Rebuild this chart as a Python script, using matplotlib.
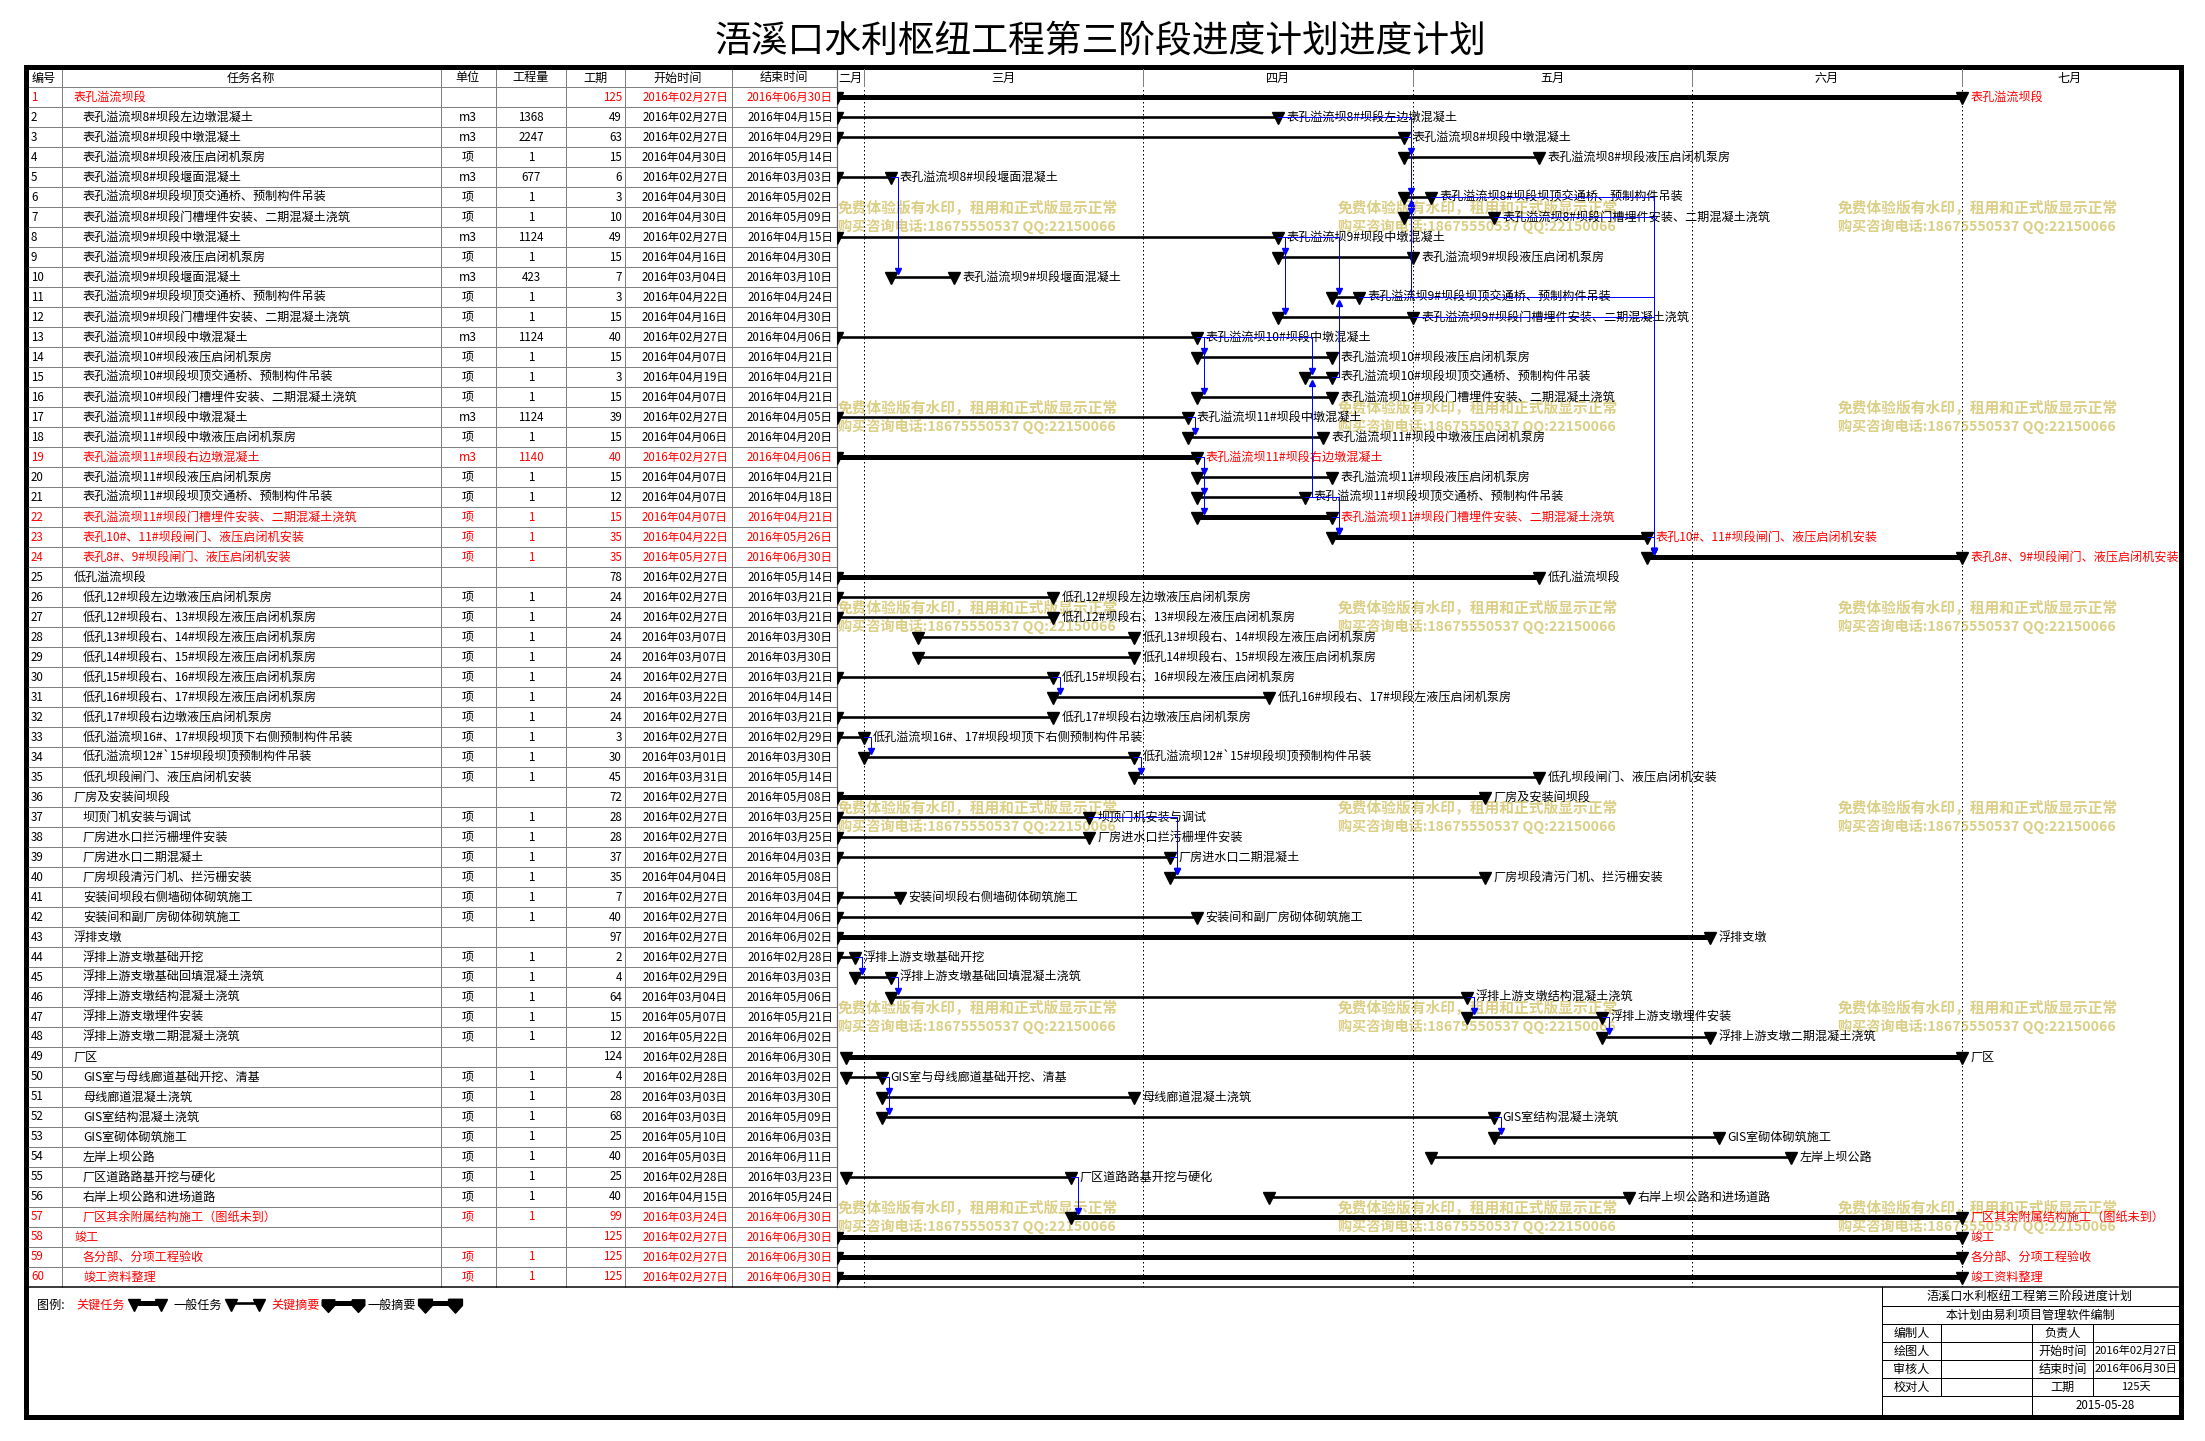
import matplotlib
matplotlib.use('Agg')
import matplotlib.pyplot as plt
import matplotlib.dates as mdates
import numpy as np
from matplotlib.path import Path
from matplotlib.patches import Rectangle

plt.rcParams['font.family'] = ['Noto Sans CJK SC', 'DejaVu Sans']

# ---------------- data ----------------
title = "浯溪口水利枢纽工程第三阶段进度计划进度计划"
header = ["编号", "任务名称", "单位", "工程量", "工期", "开始时间", "结束时间"]
names = [
    "表孔溢流坝段",
    "表孔溢流坝8#坝段左边墩混凝土",
    "表孔溢流坝8#坝段中墩混凝土",
    "表孔溢流坝8#坝段液压启闭机泵房",
    "表孔溢流坝8#坝段堰面混凝土",
    "表孔溢流坝8#坝段坝顶交通桥、预制构件吊装",
    "表孔溢流坝8#坝段门槽埋件安装、二期混凝土浇筑",
    "表孔溢流坝9#坝段中墩混凝土",
    "表孔溢流坝9#坝段液压启闭机泵房",
    "表孔溢流坝9#坝段堰面混凝土",
    "表孔溢流坝9#坝段坝顶交通桥、预制构件吊装",
    "表孔溢流坝9#坝段门槽埋件安装、二期混凝土浇筑",
    "表孔溢流坝10#坝段中墩混凝土",
    "表孔溢流坝10#坝段液压启闭机泵房",
    "表孔溢流坝10#坝段坝顶交通桥、预制构件吊装",
    "表孔溢流坝10#坝段门槽埋件安装、二期混凝土浇筑",
    "表孔溢流坝11#坝段中墩混凝土",
    "表孔溢流坝11#坝段中墩液压启闭机泵房",
    "表孔溢流坝11#坝段右边墩混凝土",
    "表孔溢流坝11#坝段液压启闭机泵房",
    "表孔溢流坝11#坝段坝顶交通桥、预制构件吊装",
    "表孔溢流坝11#坝段门槽埋件安装、二期混凝土浇筑",
    "表孔10#、11#坝段闸门、液压启闭机安装",
    "表孔8#、9#坝段闸门、液压启闭机安装",
    "低孔溢流坝段",
    "低孔12#坝段左边墩液压启闭机泵房",
    "低孔12#坝段右、13#坝段左液压启闭机泵房",
    "低孔13#坝段右、14#坝段左液压启闭机泵房",
    "低孔14#坝段右、15#坝段左液压启闭机泵房",
    "低孔15#坝段右、16#坝段左液压启闭机泵房",
    "低孔16#坝段右、17#坝段左液压启闭机泵房",
    "低孔17#坝段右边墩液压启闭机泵房",
    "低孔溢流坝16#、17#坝段坝顶下右侧预制构件吊装",
    "低孔溢流坝12#`15#坝段坝顶预制构件吊装",
    "低孔坝段闸门、液压启闭机安装",
    "厂房及安装间坝段",
    "坝顶门机安装与调试",
    "厂房进水口拦污栅埋件安装",
    "厂房进水口二期混凝土",
    "厂房坝段清污门机、拦污栅安装",
    "安装间坝段右侧墙砌体砌筑施工",
    "安装间和副厂房砌体砌筑施工",
    "浮排支墩",
    "浮排上游支墩基础开挖",
    "浮排上游支墩基础回填混凝土浇筑",
    "浮排上游支墩结构混凝土浇筑",
    "浮排上游支墩埋件安装",
    "浮排上游支墩二期混凝土浇筑",
    "厂区",
    "GIS室与母线廊道基础开挖、清基",
    "母线廊道混凝土浇筑",
    "GIS室结构混凝土浇筑",
    "GIS室砌体砌筑施工",
    "左岸上坝公路",
    "厂区道路路基开挖与硬化",
    "右岸上坝公路和进场道路",
    "厂区其余附属结构施工（图纸未到）",
    "竣工",
    "各分部、分项工程验收",
    "竣工资料整理",
]
units = ["", "m3", "m3", "项", "m3", "项", "项", "m3", "项", "m3",
         "项", "项", "m3", "项", "项", "项", "m3", "项", "m3", "项",
         "项", "项", "项", "项", "", "项", "项", "项", "项", "项",
         "项", "项", "项", "项", "项", "", "项", "项", "项", "项",
         "项", "项", "", "项", "项", "项", "项", "项", "", "项",
         "项", "项", "项", "项", "项", "项", "项", "", "项", "项"]
quantities = ["", "1368", "2247", "1", "677", "1", "1", "1124", "1", "423",
              "1", "1", "1124", "1", "1", "1", "1124", "1", "1140", "1",
              "1", "1", "1", "1", "", "1", "1", "1", "1", "1",
              "1", "1", "1", "1", "1", "", "1", "1", "1", "1",
              "1", "1", "", "1", "1", "1", "1", "1", "", "1",
              "1", "1", "1", "1", "1", "1", "1", "", "1", "1"]
durations = [125, 49, 63, 15, 6, 3, 10, 49, 15, 7,
             3, 15, 40, 15, 3, 15, 39, 15, 40, 15,
             12, 15, 35, 35, 78, 24, 24, 24, 24, 24,
             24, 24, 3, 30, 45, 72, 28, 28, 37, 35,
             7, 40, 97, 2, 4, 64, 15, 12, 124, 4,
             28, 68, 25, 40, 25, 40, 99, 125, 125, 125]
starts = ["02-27", "02-27", "02-27", "04-30", "02-27", "04-30", "04-30", "02-27", "04-16", "03-04",
          "04-22", "04-16", "02-27", "04-07", "04-19", "04-07", "02-27", "04-06", "02-27", "04-07",
          "04-07", "04-07", "04-22", "05-27", "02-27", "02-27", "02-27", "03-07", "03-07", "02-27",
          "03-22", "02-27", "02-27", "03-01", "03-31", "02-27", "02-27", "02-27", "02-27", "04-04",
          "02-27", "02-27", "02-27", "02-27", "02-29", "03-04", "05-07", "05-22", "02-28", "02-28",
          "03-03", "03-03", "05-10", "05-03", "02-28", "04-15", "03-24", "02-27", "02-27", "02-27"]
ends = ["06-30", "04-15", "04-29", "05-14", "03-03", "05-02", "05-09", "04-15", "04-30", "03-10",
        "04-24", "04-30", "04-06", "04-21", "04-21", "04-21", "04-05", "04-20", "04-06", "04-21",
        "04-18", "04-21", "05-26", "06-30", "05-14", "03-21", "03-21", "03-30", "03-30", "03-21",
        "04-14", "03-21", "02-29", "03-30", "05-14", "05-08", "03-25", "03-25", "04-03", "05-08",
        "03-04", "04-06", "06-02", "02-28", "03-03", "05-06", "05-21", "06-02", "06-30", "03-02",
        "03-30", "05-09", "06-03", "06-11", "03-23", "05-24", "06-30", "06-30", "06-30", "06-30"]
red_rows = [1, 19, 22, 23, 24, 57, 58, 59, 60]
summary_rows = [1, 25, 36, 43, 49, 58]
links = [(5, 10), (2, 4), (3, 6), (3, 7), (11, 6), (8, 9), (8, 12), (8, 11),
         (13, 14), (13, 16), (13, 15), (21, 15), (15, 11), (17, 18),
         (19, 20), (19, 21), (19, 22), (21, 23), (22, 23),
         (6, 24), (7, 24), (11, 24), (12, 24), (23, 24),
         (30, 31), (33, 34), (34, 35), (37, 40), (39, 40),
         (44, 45), (45, 46), (46, 47), (47, 48),
         (50, 51), (50, 52), (52, 53), (55, 57)]
months = ["二月", "三月", "四月", "五月", "六月", "七月"]
month_starts = ["2016-02-01", "2016-03-01", "2016-04-01", "2016-05-01",
                "2016-06-01", "2016-07-01", "2016-08-01"]
watermark1 = "免费体验版有水印，租用和正式版显示正常"
watermark2 = "购买咨询电话:18675550537 QQ:22150066"
legend_items = [("关键任务", "red", "task_thick"), ("一般任务", "black", "task_thin"),
                ("关键摘要", "red", "sum_thick"), ("一般摘要", "black", "sum_wide")]
block_title = "浯溪口水利枢纽工程第三阶段进度计划"
block_sub = "本计划由易利项目管理软件编制"
block_rows = [("编制人", "负责人", ""), ("绘图人", "开始时间", "2016年02月27日"),
              ("审核人", "结束时间", "2016年06月30日"), ("校对人", "工期", "125天")]
block_date = "2015-05-28"

# ---------------- layout ----------------
W, H = 2205, 1441
PX = 0.72  # points per pixel at dpi 100
FS = 8.3    # numbers / dates
FSN = 8.7   # task names
fig = plt.figure(figsize=(W / 100, H / 100), dpi=100)


def rect(l, t, r, b):
    return [l / W, 1 - b / H, (r - l) / W, (b - t) / H]


bg = fig.add_axes([0, 0, 1, 1])
bg.set_xlim(0, W)
bg.set_ylim(H, 0)
bg.axis('off')

n = len(names)
rows = np.arange(1, n + 1)
colors = ['red' if r in red_rows else 'black' for r in rows]

# title
bg.text(1100, 42, title, ha='center', va='center', fontsize=26.5, color='black')

# watermarks (under everything else)
for wx in [838, 1338, 1838]:
    for wy in [208, 408, 608, 808, 1008, 1208]:
        bg.text(wx, wy, watermark1, ha='left', va='center', fontsize=10.6,
                fontweight='bold', color='#dbcf85', zorder=0)
        bg.text(wx, wy + 18, watermark2, ha='left', va='center', fontsize=10.2,
                fontweight='bold', color='#dbcf85', zorder=0)

# outer frame
bg.add_patch(Rectangle((25.5, 66.5), 2181 - 25.5, 1417 - 66.5, fill=False,
                       lw=5 * PX, edgecolor='black', zorder=10))

# table grid
col_x = [62, 441, 496, 566, 625, 732]
for cx in col_x:
    bg.plot([cx, cx], [69, 1287], color='#808080', lw=1 * PX, zorder=2)
bg.plot([837, 837], [69, 1287], color='#606060', lw=1.2 * PX, zorder=2)
bg.plot([28, 837], [87, 87], color='#808080', lw=1 * PX, zorder=2)
bg.plot([28, 2178], [1287, 1287], color='black', lw=1.5 * PX, zorder=2)

# table header
hdr_x = [32, 251, 468, 531, 595, 678, 784]
hdr_ha = ['left', 'center', 'center', 'center', 'center', 'center', 'center']
for t, x, ha in zip(header, hdr_x, hdr_ha):
    bg.text(x, 78, t, ha=ha, va='center', fontsize=FSN)

# table body
tx = fig.add_axes(rect(28, 87, 837, 1287))
tx.set_xlim(28, 837)
tx.set_ylim(n + 0.5, 0.5)
tx.axis('off')
tx.hlines(np.arange(1.5, n + 0.5), 28, 837, color='#808080', lw=1 * PX)


def fmt(md):
    m, d = md.split('-')
    return "2016年%s月%s日" % (m, d)


for r, nm, u, q, du, s, e, c in zip(rows, names, units, quantities, durations, starts, ends, colors):
    tx.text(31, r, str(r), ha='left', va='center', fontsize=FS, color=c)
    tx.text(74 if r in summary_rows else 83, r, nm, ha='left', va='center', fontsize=FSN, color=c)
    tx.text(468, r, u, ha='center', va='center', fontsize=FSN, color=c)
    tx.text(531, r, q, ha='center', va='center', fontsize=FS, color=c)
    tx.text(622, r, str(du), ha='right', va='center', fontsize=FS, color=c)
    tx.text(728, r, fmt(s), ha='right', va='center', fontsize=FS, color=c)
    tx.text(833, r, fmt(e), ha='right', va='center', fontsize=FS, color=c)

# gantt
t0 = mdates.date2num(np.datetime64('2016-02-27'))
xmax = t0 + (2178 - 837) / 9.0
ax = fig.add_axes(rect(837, 87, 2178, 1287))
ax.set_xlim(t0, xmax)
ax.set_ylim(n + 0.5, 0.5)
ax.axis('off')

hx = fig.add_axes(rect(837, 69, 2178, 87))
hx.set_xlim(t0, xmax)
hx.set_ylim(0, 1)
hx.axis('off')

mnum = mdates.date2num(np.array(month_starts, dtype='datetime64[D]'))
for i, lab in enumerate(months):
    a = max(mnum[i], t0)
    b = min(mnum[i + 1], xmax)
    hx.text((a + b) / 2, 0.5, lab, ha='center', va='center', fontsize=FSN)
for m in mnum[1:-1]:
    hx.axvline(m, color='#808080', lw=1 * PX)
    ax.axvline(m, color='black', lw=1 * PX, ls=(0, (1.5, 2.5)), zorder=1)

sx = mdates.date2num(np.array(['2016-' + s for s in starts], dtype='datetime64[D]'))
ex = mdates.date2num(np.array(['2016-' + e for e in ends], dtype='datetime64[D]')) + 1

for r, s, e, c, nm in zip(rows, sx, ex, colors, names):
    thick = (r in red_rows) or (r in summary_rows)
    lw = (5 if thick else 2.6) * PX
    ax.plot([s, e], [r, r], color='black', lw=lw, solid_capstyle='butt', zorder=3)
    ax.plot([s, e], [r + 0.05, r + 0.05], ls='none', marker='v', ms=8.5,
            color='black', zorder=4)
    ax.annotate(nm, (e, r), xytext=(6, 0), textcoords='offset points',
                ha='left', va='center', fontsize=FSN, color=c, zorder=5)

# dependency links
off = 7 / 9.0
for p, q in links:
    x0 = ex[p - 1]
    x1 = sx[q - 1] + off
    d = 1 if q > p else -1
    ya = p
    yb = q - d * 0.32
    ax.plot([x0, x1, x1], [ya, ya, yb], color='#0000ff', lw=1 * PX, zorder=6)
    ax.plot([x1], [yb], marker='v' if d > 0 else '^', ms=5, color='#0000ff',
            ls='none', zorder=6)

# legend
bg.text(37, 1305, "图例:", ha='left', va='center', fontsize=FSN)
leg_text_x = [76, 174, 271, 368]
leg_mark_x = [(134, 161), (231, 259), (328, 358), (425, 455)]
pent = Path([(-0.5, 0.45), (0.5, 0.45), (0.5, 0.0), (0.0, -0.55), (-0.5, 0.0), (-0.5, 0.45)])
for (lab, col, kind), lx, (m0, m1) in zip(legend_items, leg_text_x, leg_mark_x):
    bg.text(lx, 1305, lab, ha='left', va='center', fontsize=FSN, color=col)
    lw = 2.6 * PX if kind == 'task_thin' else 5 * PX
    mk = 'v' if kind.startswith('task') else pent
    ms = 8.5 if kind.startswith('task') else (10 if kind == 'sum_thick' else 11)
    bg.plot([m0, m1], [1303, 1303], color='black', lw=lw, solid_capstyle='butt')
    bg.plot([m0, m1], [1305, 1305], ls='none', marker=mk, ms=ms, color='black')

# title block
bl, c1, c2, c3, br = 1882, 1941, 2032, 2093, 2178
ys = [1287, 1306, 1324, 1342, 1360, 1378, 1396, 1415]
lwb = 1 * PX
bg.plot([bl, bl], [1287, 1415], color='black', lw=lwb)
for y in ys[1:-1]:
    bg.plot([bl, br], [y, y], color='black', lw=lwb)
for x in [c1, c3]:
    bg.plot([x, x], [ys[2], ys[6]], color='black', lw=lwb)
bg.plot([c2, c2], [ys[2], ys[7]], color='black', lw=lwb)
bg.text((bl + br) / 2, (ys[0] + ys[1]) / 2, block_title, ha='center', va='center', fontsize=FSN)
bg.text((bl + br) / 2, (ys[1] + ys[2]) / 2, block_sub, ha='center', va='center', fontsize=FSN)
for i, (a, b, v) in enumerate(block_rows):
    yc = (ys[2 + i] + ys[3 + i]) / 2
    bg.text((bl + c1) / 2, yc, a, ha='center', va='center', fontsize=FSN)
    bg.text((c2 + c3) / 2, yc, b, ha='center', va='center', fontsize=FSN)
    bg.text((c3 + br) / 2, yc, v, ha='center', va='center', fontsize=FS - 0.3)
bg.text((c2 + br) / 2, (ys[6] + ys[7]) / 2, block_date, ha='center', va='center', fontsize=FS)

fig.savefig('out.png', dpi=100)
